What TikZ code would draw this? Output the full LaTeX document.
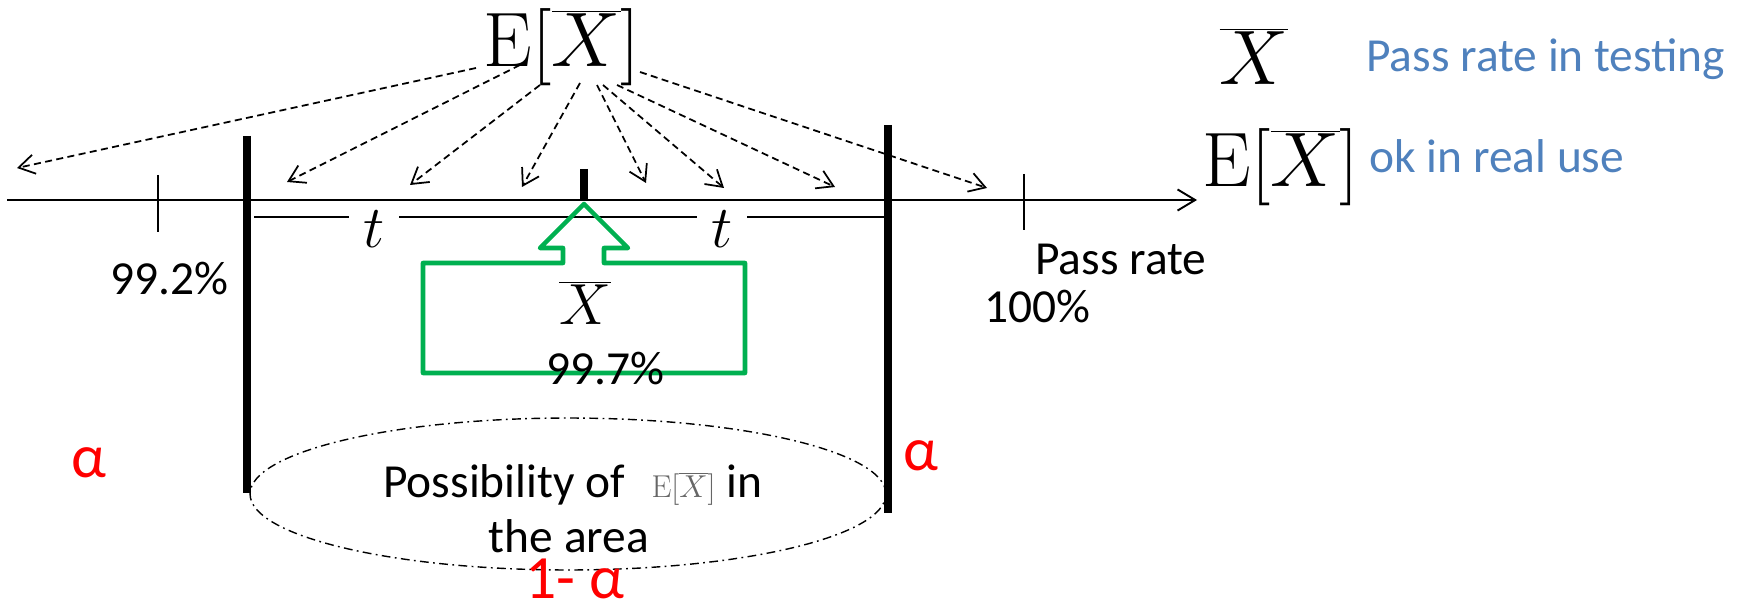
\documentclass[tikz,border=0pt]{standalone}
\usepackage{fix-cm}
\usepackage[no-math]{fontspec}
\setmainfont{Carlito}
\usetikzlibrary{arrows.meta,calc}
\definecolor{legblue}{HTML}{4F81BD}
\definecolor{boxgreen}{HTML}{00B050}
\tikzset{
  txt/.style={font=\fontsize{27}{32}\selectfont, inner sep=0pt, anchor=base west},
  bluetxt/.style={txt, text=legblue},
  redtxt/.style={font=\fontsize{35}{40}\selectfont, text=red, inner sep=0pt, anchor=base west},
  mathbig/.style={font=\fontsize{44}{50}\selectfont, inner sep=0pt, anchor=base},
  tlab/.style={font=\fontsize{34}{40}\selectfont, inner sep=0pt, fill=white, minimum width=28pt},
  axisline/.style={line width=1.1pt},
  thickbar/.style={line width=4pt},
  darrow/.style={line width=1pt, dash pattern=on 4pt off 2.5pt, -{Straight Barb[length=9pt,width=11pt,line width=1pt]}},
  greenbox/.style={draw=boxgreen, line width=2.6pt, line join=round},
  dashdot/.style={line width=0.8pt, dash pattern=on 5pt off 2.5pt on 1pt off 2.5pt},
}
\begin{document}
\begin{tikzpicture}[x=0.02cm, y=-0.02cm]
\useasboundingbox (0,0) rectangle (1744,601);

% main axis
\coordinate (axL) at (7,200);
\coordinate (axR) at (1197,200);
\draw[axisline, -{Straight Barb[length=10pt,width=12pt,line width=1.1pt]}] (axL) -- (axR);

% ticks
\draw[axisline] (158,175) -- (158,232);
\draw[axisline] (1024,174) -- (1024,230);
\draw[thickbar] (584,169) -- (584,200);

% t line
\draw[line width=1pt] (254,217) -- (887,217);
\node[tlab] (tL) at (374,229) {$t$};
\node[tlab] (tR) at (722,229) {$t$};

% thick bars
\draw[thickbar] (247,136) -- (247,493);
\draw[thickbar] (888,125) -- (888,513);

% top expectation node and dashed arrows
\node[mathbig] (ex) at (562,67) {$\mathrm{E}[\overline{X}]$};
\coordinate (a1) at (17,168);
\coordinate (a2) at (287,182);
\coordinate (a3) at (410,185);
\coordinate (a4) at (522,187);
\coordinate (a5) at (646,183);
\coordinate (a6) at (724,188);
\coordinate (a7) at (835,187);
\coordinate (a8) at (987,188);
\draw[darrow] ($(ex.base)+(-86,1)$) -- (a1);
\draw[darrow] ($(ex.base)+(-42,-2)$) -- (a2);
\draw[darrow] ($(ex.base)+(-22,18)$) -- (a3);
\draw[darrow] ($(ex.base)+(18,16)$) -- (a4);
\draw[darrow] ($(ex.base)+(35,18)$) -- (a5);
\draw[darrow] ($(ex.base)+(41,18)$) -- (a6);
\draw[darrow] ($(ex.base)+(55,18)$) -- (a7);
\draw[darrow] ($(ex.base)+(78,5)$) -- (a8);

% green box with block arrow
\draw[greenbox] (563,263) -- (563,248) -- (540,248) -- (584,204) -- (628,248)
  -- (604,248) -- (604,263) -- (745,263) -- (745,373) -- (423,373) -- (423,263) -- cycle;
\node[font=\fontsize{33}{38}\selectfont, inner sep=0pt, anchor=base] (xbar) at (585,324) {$\overline{X}$};
\node[txt] (p997) at (546,384) {99.7\%};

% labels on axis
\node[txt] (p992) at (110,295) {99.2\%};
\node[txt] (prate) at (1035,275) {Pass rate};
\node[txt] (p100) at (984,322) {100\%};

% ellipse region
\draw[dashdot] (568,494) ellipse [x radius=6.36cm, y radius=1.52cm];
\node[txt] (poss) at (383,497) {Possibility of\hspace{9pt} {\color{black!60}\fontsize{18}{20}\selectfont$\mathrm{E}[\overline{X}]$} in};
\node[txt, anchor=base] (area) at (569,552) {the area};
\node[redtxt] (onealpha) at (525,598) {1- α};

% alphas
\node[redtxt] (alphaL) at (71,477) {α};
\node[redtxt] (alphaR) at (903,470) {α};

% legend
\node[mathbig] (legx) at (1254,85) {$\overline{X}$};
\node[bluetxt] (legxt) at (1366,72) {Pass rate in testing};
\node[mathbig] (legex) at (1281,187) {$\mathrm{E}[\overline{X}]$};
\node[bluetxt] (legext) at (1369,173) {ok in real use};
\end{tikzpicture}
\end{document}
